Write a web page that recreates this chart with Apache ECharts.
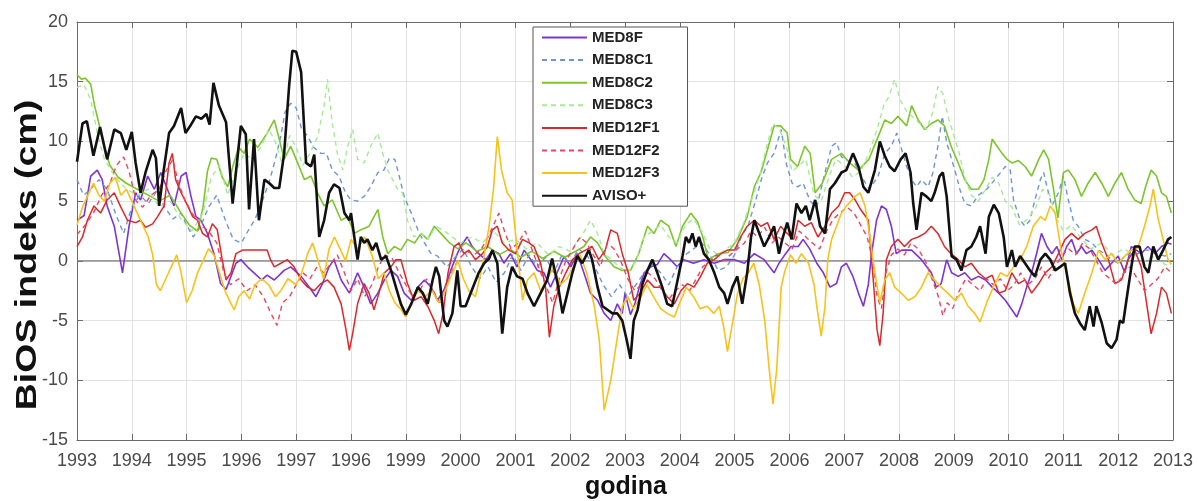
<!DOCTYPE html>
<html><head><meta charset="utf-8">
<script src="https://cdn.jsdelivr.net/npm/echarts@6/dist/echarts.min.js"></script>
<style>html,body{margin:0;padding:0;background:#fff}#c{width:1198px;height:501px}</style>
</head><body><div id="c"></div>
<script>
const xTickLabels = ['1993','1994','1995','1996','1997','1996','1999','2000','2001','2002','2003','2004','2005','2006','2007','2008','2009','2010','2011','2012','2013'];
const seriesNames = ['MED8F','MED8C1','MED8C2','MED8C3','MED12F1','MED12F2','MED12F3','AVISO+'];
const xTitle = 'godina';
const yTitle = 'BiOS indeks (cm)';

const med8f = [[1993.0,3.4],[1993.13,3.8],[1993.25,7.1],[1993.37,7.6],[1993.46,6.8],[1993.55,4.6],[1993.68,2.9],[1993.83,-1],[1993.95,2.9],[1994.07,5.7],[1994.16,5.1],[1994.29,7.1],[1994.41,6],[1994.53,7.4],[1994.65,6],[1994.77,4.6],[1994.9,7.1],[1994.99,7.4],[1995.08,5.4],[1995.17,3.7],[1995.26,3.4],[1995.38,2.3],[1995.5,0.6],[1995.62,-1.9],[1995.72,-2.4],[1995.81,-1.3],[1995.9,-0.2],[1995.99,0.1],[1996.11,-0.5],[1996.23,-1],[1996.37,-1.6],[1996.47,-1.2],[1996.6,-1.6],[1996.78,-0.8],[1996.9,-0.5],[1997.09,-1.3],[1997.27,-2.4],[1997.36,-3],[1997.48,-1.9],[1997.6,-0.5],[1997.69,0.1],[1997.82,-1.6],[1997.97,-2.7],[1998.12,-1],[1998.24,-2.2],[1998.36,-3.6],[1998.49,-2.7],[1998.61,-1.6],[1998.73,-0.8],[1998.85,-1.3],[1998.97,-2.7],[1999.1,-3.3],[1999.22,-2.2],[1999.34,-1.6],[1999.46,-2.2],[1999.58,-3.3],[1999.7,-2.4],[1999.82,-0.8],[1999.94,0.6],[2000.0,1.2],[2000.12,2],[2000.21,1.2],[2000.33,0.6],[2000.46,0.1],[2000.58,0.9],[2000.7,0.6],[2000.79,-0.2],[2000.91,0.6],[2001.03,-0.5],[2001.16,0.9],[2001.28,0.1],[2001.4,-0.8],[2001.52,-1],[2001.64,-2.2],[2001.76,-1],[2001.89,0.4],[2002.01,-0.5],[2002.13,0.6],[2002.25,-1],[2002.37,-2.7],[2002.5,-3.3],[2002.62,-4.4],[2002.74,-5],[2002.86,-3.6],[2002.95,-4.4],[2003.0,-2.7],[2003.1,-4.5],[2003.18,-3.6],[2003.26,-2.2],[2003.35,-1],[2003.47,-0.5],[2003.59,-0.3],[2003.71,0.6],[2003.83,0.1],[2003.95,-0.5],[2004.07,0.1],[2004.25,-0.2],[2004.44,0.1],[2004.63,-0.2],[2004.81,0.1],[2005.0,0.1],[2005.18,-0.2],[2005.36,0.6],[2005.54,0.1],[2005.72,-1],[2005.81,-0.2],[2005.9,0.4],[2006.03,1.2],[2006.16,1.2],[2006.25,1.8],[2006.37,1],[2006.5,-0.2],[2006.62,-1],[2006.74,-2.2],[2006.86,-1.9],[2006.95,-0.5],[2007.04,-0.2],[2007.16,-1.3],[2007.26,-2.7],[2007.35,-3.8],[2007.44,-2],[2007.5,0.6],[2007.59,3.4],[2007.68,4.6],[2007.77,4.3],[2007.86,2.9],[2007.95,0.6],[2008.05,0.9],[2008.23,0.9],[2008.41,0.1],[2008.59,-1],[2008.68,-2.2],[2008.77,-1.9],[2008.87,0.1],[2008.96,-1],[2009.08,-1.3],[2009.2,-1],[2009.32,-1.6],[2009.45,-1.3],[2009.58,-1.6],[2009.7,-2.2],[2009.82,-2.7],[2009.94,-3.3],[2010.06,-4.1],[2010.15,-4.7],[2010.24,-3.6],[2010.33,-2.2],[2010.42,-1],[2010.51,0.6],[2010.6,2.3],[2010.7,1.2],[2010.79,0.6],[2010.88,1.2],[2010.97,0.1],[2011.06,1.2],[2011.15,1.8],[2011.24,0.6],[2011.33,1.2],[2011.42,0.6],[2011.52,0.9],[2011.64,0.1],[2011.76,-0.8],[2011.88,-0.2],[2012.0,0.4],[2012.12,-1],[2012.24,1.2],[2012.33,0.9],[2012.42,0.6],[2012.54,1.2],[2012.67,0.6],[2012.79,1.2],[2012.91,1.5],[2012.97,1.4]];

const med8c1 = [[1993.0,6.8],[1993.12,5.5],[1993.25,6],[1993.4,6.8],[1993.55,6],[1993.7,4],[1993.85,2.3],[1994.0,4.5],[1994.15,5.5],[1994.3,4.8],[1994.45,5.8],[1994.6,4.5],[1994.75,3.5],[1994.9,4],[1995.0,3],[1995.12,2],[1995.25,2.8],[1995.4,4.5],[1995.55,5.5],[1995.7,3.5],[1995.85,1.8],[1996.0,1.5],[1996.12,2.5],[1996.25,3.5],[1996.38,5],[1996.5,6.5],[1996.62,8.5],[1996.72,10.5],[1996.8,12.5],[1996.9,13.2],[1997.0,12.8],[1997.1,11],[1997.2,10.5],[1997.32,9.5],[1997.45,9],[1997.55,9],[1997.66,7.6],[1997.78,7.1],[1997.9,5.7],[1998.0,5.1],[1998.12,5],[1998.24,5.4],[1998.36,6.2],[1998.49,7.4],[1998.6,7.6],[1998.7,8.6],[1998.8,8.5],[1998.88,7.1],[1998.97,5.4],[1999.1,4],[1999.22,2.6],[1999.34,1.5],[1999.46,0.6],[1999.58,0.4],[1999.75,-0.5],[1999.9,0.3],[2000.05,1],[2000.2,-0.5],[2000.35,-1.5],[2000.5,-0.5],[2000.65,-1.8],[2000.8,-1],[2000.95,0.5],[2001.1,-0.8],[2001.25,0.5],[2001.4,-0.5],[2001.55,0.3],[2001.7,-1],[2001.85,0.5],[2002.0,-0.3],[2002.15,1],[2002.3,0.5],[2002.45,-0.5],[2002.6,-2],[2002.75,-3],[2002.9,-2],[2003.05,-3],[2003.2,-2],[2003.35,-1],[2003.5,-0.3],[2003.65,-1],[2003.8,-2],[2003.95,-0.5],[2004.1,0.5],[2004.25,1],[2004.4,1.5],[2004.55,0.5],[2004.7,-0.8],[2004.85,-0.5],[2005.0,0.5],[2005.12,2],[2005.25,3],[2005.38,5],[2005.5,7],[2005.6,8.2],[2005.72,9],[2005.85,11],[2005.95,8],[2006.05,6.5],[2006.15,6.2],[2006.25,6.5],[2006.38,5],[2006.5,4.5],[2006.65,7.4],[2006.77,9.6],[2006.86,9.9],[2006.95,8.7],[2007.07,8.4],[2007.19,8.2],[2007.31,7.1],[2007.46,6],[2007.62,7.1],[2007.74,9],[2007.86,9.6],[2007.96,10.7],[2008.05,9.3],[2008.14,7.9],[2008.23,6.8],[2008.32,6.2],[2008.41,6.8],[2008.53,6.2],[2008.62,7.4],[2008.71,9.6],[2008.79,12.1],[2008.87,9.9],[2008.96,8.5],[2009.05,7.1],[2009.11,6],[2009.2,4.8],[2009.32,4.6],[2009.45,5.5],[2009.6,6],[2009.75,6.8],[2009.94,7.9],[2010.03,7.6],[2010.09,5.1],[2010.21,3.4],[2010.3,2.9],[2010.39,3.4],[2010.48,5.1],[2010.58,6.8],[2010.64,7.4],[2010.7,6.2],[2010.79,4.6],[2010.91,5.7],[2011.0,7.1],[2011.09,5.1],[2011.18,3.4],[2011.27,2.9],[2011.39,1.8],[2011.52,1.5],[2011.64,0.9],[2011.76,0.6],[2011.88,0.1],[2012.0,-0.2],[2012.12,0.4],[2012.24,0.6],[2012.36,0.6],[2012.48,0.9],[2012.6,0.9],[2012.72,0.6],[2012.85,0.4],[2012.97,0.6]];

const med8c2 = [[1993.0,15.6],[1993.08,15.2],[1993.15,15.3],[1993.25,14.8],[1993.32,13],[1993.4,11.5],[1993.5,9.5],[1993.6,8],[1993.75,7],[1993.9,6.5],[1994.1,6],[1994.3,5.5],[1994.5,5],[1994.7,5.5],[1994.9,4],[1995.05,3],[1995.2,2.5],[1995.3,4.5],[1995.38,7.5],[1995.45,8.6],[1995.55,8.5],[1995.65,7],[1995.75,6.2],[1995.85,8],[1995.95,9.5],[1996.05,9],[1996.15,10.2],[1996.3,9.5],[1996.47,10.7],[1996.6,11.8],[1996.69,10.2],[1996.78,8.5],[1996.9,9.6],[1997.0,8.5],[1997.15,6.8],[1997.27,7.1],[1997.39,5.7],[1997.51,4.6],[1997.66,5.1],[1997.82,3.4],[1997.94,3.7],[1998.06,2.3],[1998.18,2.6],[1998.33,2.9],[1998.49,4.3],[1998.58,2],[1998.67,0.6],[1998.79,1.2],[1998.91,0.9],[1999.03,1.8],[1999.16,1.5],[1999.28,2.3],[1999.4,1.8],[1999.52,2.9],[1999.64,2.3],[1999.8,1.5],[1999.95,1],[2000.1,1.5],[2000.3,0.8],[2000.5,1.2],[2000.7,0.5],[2000.9,1],[2001.1,0.3],[2001.3,0.8],[2001.5,0.2],[2001.7,0.8],[2001.9,0.3],[2002.1,0.8],[2002.25,1.2],[2002.37,2],[2002.5,1.5],[2002.65,0.3],[2002.8,-0.5],[2002.95,-0.8],[2003.1,-0.8],[2003.25,0.6],[2003.41,2.9],[2003.53,2.3],[2003.65,3.4],[2003.8,2.9],[2003.93,1.2],[2004.05,2.9],[2004.2,4],[2004.32,3.3],[2004.42,2],[2004.52,0.1],[2004.7,0.6],[2004.88,0.7],[2005.05,1.8],[2005.23,3.7],[2005.36,6.2],[2005.48,7.4],[2005.6,9.3],[2005.72,11.3],[2005.84,11.3],[2005.96,10.7],[2006.02,8.5],[2006.15,7.9],[2006.28,9.6],[2006.38,9],[2006.47,5.7],[2006.6,6.5],[2006.77,8.5],[2006.95,9],[2007.1,8.2],[2007.26,7.6],[2007.45,8.5],[2007.62,10.4],[2007.74,11.8],[2007.86,11.5],[2007.98,12.1],[2008.14,11.3],[2008.23,13],[2008.35,11.8],[2008.47,11],[2008.59,11.5],[2008.71,11.8],[2008.83,11.3],[2008.95,9.6],[2009.08,8.2],[2009.2,6.8],[2009.32,6],[2009.45,6],[2009.55,6.8],[2009.64,8.5],[2009.7,10.2],[2009.79,9.6],[2009.88,9],[2009.97,8.5],[2010.06,8.2],[2010.18,8.4],[2010.3,7.9],[2010.42,7.1],[2010.55,8.5],[2010.64,9.3],[2010.73,8.5],[2010.82,6],[2010.9,3.6],[2011.0,7.4],[2011.09,7.6],[2011.21,6.8],[2011.33,5.4],[2011.45,6.5],[2011.58,7.4],[2011.7,6.5],[2011.82,5.4],[2011.94,6.5],[2012.06,7.4],[2012.18,6],[2012.3,5.1],[2012.42,4.8],[2012.5,6.2],[2012.6,7.6],[2012.7,7.1],[2012.79,5.7],[2012.88,5.4],[2012.97,4]];

const med8c3 = [[1993.0,14.5],[1993.12,14.8],[1993.25,13.5],[1993.38,10.5],[1993.5,8.5],[1993.7,7],[1993.9,6],[1994.1,5.5],[1994.3,6],[1994.5,4.5],[1994.7,5],[1994.9,3.5],[1995.1,2.5],[1995.3,4],[1995.45,7],[1995.6,8],[1995.75,5.5],[1995.9,7.5],[1996.05,9],[1996.2,8.5],[1996.35,9.5],[1996.5,11],[1996.62,10],[1996.75,8],[1996.88,10.5],[1997.0,9.5],[1997.12,8],[1997.25,9],[1997.39,10.4],[1997.51,13],[1997.57,15.2],[1997.65,11.8],[1997.75,9],[1997.85,7.6],[1997.94,9.6],[1998.03,11],[1998.12,8.5],[1998.24,8.2],[1998.36,9.6],[1998.49,10.7],[1998.58,9],[1998.67,7.6],[1998.76,6.8],[1998.85,6],[1998.94,5.7],[1999.03,3.4],[1999.15,2],[1999.28,2.3],[1999.4,1.8],[1999.55,2.9],[1999.7,2.5],[1999.85,2],[2000.0,1.5],[2000.2,2],[2000.4,1.5],[2000.6,2.5],[2000.8,1.5],[2001.0,1.8],[2001.2,1],[2001.4,1.5],[2001.6,0.5],[2001.8,1.2],[2002.0,0.8],[2002.2,2],[2002.37,3.4],[2002.5,2.3],[2002.62,0.6],[2002.75,0.1],[2002.9,-0.5],[2003.05,-1],[2003.2,0],[2003.35,2],[2003.5,2.5],[2003.65,3],[2003.8,2],[2003.95,1.5],[2004.1,3],[2004.25,3.5],[2004.4,2.5],[2004.55,1],[2004.7,0.5],[2004.85,1],[2005.0,1.5],[2005.15,3],[2005.3,5],[2005.45,7],[2005.58,9.5],[2005.7,11.5],[2005.82,11],[2005.95,9.5],[2006.05,7.5],[2006.18,8],[2006.3,8.5],[2006.45,5.5],[2006.58,5],[2006.72,7],[2006.85,8.5],[2007.0,8],[2007.15,7],[2007.3,7.5],[2007.45,9],[2007.6,11],[2007.72,13],[2007.82,13.8],[2007.92,15.2],[2008.02,13.5],[2008.14,12.5],[2008.26,12],[2008.38,11.5],[2008.5,11],[2008.62,12.5],[2008.71,14.6],[2008.8,14],[2008.9,12],[2009.0,10.5],[2009.1,9],[2009.2,7],[2009.32,5.5],[2009.45,5],[2009.58,6],[2009.7,7],[2009.82,6.5],[2009.94,5],[2010.06,4.5],[2010.2,3],[2010.35,3.5],[2010.5,4.5],[2010.62,6],[2010.75,5.5],[2010.88,3.5],[2011.0,2.5],[2011.15,3],[2011.3,2],[2011.5,1],[2011.7,1.5],[2011.9,0.5],[2012.1,1],[2012.3,0.5],[2012.5,0],[2012.7,0.5],[2012.85,-0.3],[2012.97,-0.5]];

const med12f1 = [[1993.0,1.2],[1993.1,2],[1993.19,3.4],[1993.31,4.6],[1993.43,4],[1993.55,5.1],[1993.68,5.7],[1993.8,4.5],[1993.92,3.4],[1994.07,3.2],[1994.16,3.4],[1994.25,2.8],[1994.38,3.1],[1994.47,3.7],[1994.59,4.6],[1994.68,8.2],[1994.74,9],[1994.8,6.8],[1994.9,5.7],[1995.02,4.6],[1995.11,3.7],[1995.2,3.4],[1995.29,2.3],[1995.38,2],[1995.47,3.1],[1995.56,2.6],[1995.65,0.1],[1995.72,-1.6],[1995.81,-1],[1995.9,0.6],[1996.02,0.9],[1996.11,0.9],[1996.23,0.9],[1996.35,0.9],[1996.47,0.9],[1996.53,0.1],[1996.6,-0.5],[1996.72,-0.2],[1996.84,0.1],[1996.96,-0.5],[1997.09,-1.6],[1997.21,-2.2],[1997.33,-2.5],[1997.45,-1.9],[1997.57,-1.6],[1997.69,-2.2],[1997.82,-3.6],[1997.91,-5.8],[1997.97,-7.5],[1998.03,-6.1],[1998.12,-3.6],[1998.24,-1.9],[1998.33,-2.7],[1998.42,-4.1],[1998.51,-2.7],[1998.61,-1],[1998.73,-0.5],[1998.82,0.1],[1998.91,0.1],[1999.03,-1.9],[1999.15,-3.3],[1999.28,-3],[1999.4,-3.8],[1999.52,-5],[1999.6,-6.1],[1999.68,-4.4],[1999.77,-1],[1999.88,1.2],[1999.97,1.5],[2000.06,0.6],[2000.15,0.9],[2000.27,0.1],[2000.4,0.6],[2000.49,1.2],[2000.58,2.6],[2000.67,2.9],[2000.76,1.5],[2000.88,0.9],[2001.0,0.6],[2001.13,1.8],[2001.25,1.5],[2001.34,1.2],[2001.46,-0.2],[2001.55,-2.2],[2001.62,-6.4],[2001.7,-3.8],[2001.8,-2.2],[2001.92,-1],[2002.04,0.1],[2002.16,0.6],[2002.28,0.9],[2002.4,1.2],[2002.52,0.1],[2002.64,0.9],[2002.74,2.6],[2002.86,2.3],[2002.95,0.6],[2003.06,-1],[2003.16,-3.3],[2003.28,-2.7],[2003.41,-1.6],[2003.53,-2.2],[2003.65,-2.2],[2003.77,-3],[2003.9,-3.6],[2004.02,-2.5],[2004.14,-1.9],[2004.26,-2.2],[2004.38,-1.3],[2004.5,-0.2],[2004.63,0.1],[2004.75,0.6],[2004.87,0.9],[2005.0,0.9],[2005.11,2],[2005.23,2.9],[2005.36,3.4],[2005.48,2.9],[2005.6,3.2],[2005.72,1.8],[2005.84,2.9],[2005.96,2.3],[2006.08,1.8],[2006.16,3.4],[2006.28,2.9],[2006.4,3.2],[2006.52,2],[2006.65,2.9],[2006.77,4],[2006.9,4.6],[2007.01,5.7],[2007.1,5.7],[2007.2,5.1],[2007.3,4.3],[2007.44,3.4],[2007.53,-1.6],[2007.6,-5.8],[2007.65,-7.1],[2007.71,-4.4],[2007.77,0.1],[2007.86,1.2],[2007.98,1.8],[2008.1,1.2],[2008.23,1.8],[2008.35,2],[2008.47,2.3],[2008.59,2.9],[2008.71,2.3],[2008.83,1.2],[2008.95,0.6],[2009.08,0.1],[2009.2,-0.5],[2009.32,-0.2],[2009.45,-1],[2009.58,-1.5],[2009.7,-1.2],[2009.82,-2.7],[2009.94,-2.5],[2010.06,-1],[2010.18,-1.9],[2010.3,-1.6],[2010.42,-2.7],[2010.55,-1.9],[2010.67,-1],[2010.79,-0.5],[2010.91,0.6],[2011.03,1.8],[2011.15,2.3],[2011.27,1.8],[2011.39,2.3],[2011.52,2.6],[2011.6,2.9],[2011.7,1.5],[2011.82,0.1],[2011.94,-1.9],[2012.06,-1.6],[2012.18,0.1],[2012.3,0.9],[2012.42,-0.5],[2012.5,-3],[2012.6,-6.1],[2012.7,-4.4],[2012.79,-2.2],[2012.88,-2.7],[2012.97,-4.4]];

const med12f2 = [[1993.0,2.2],[1993.15,3],[1993.3,4],[1993.45,5.5],[1993.6,6.5],[1993.72,8],[1993.85,8.7],[1993.95,7.5],[1994.08,5],[1994.2,4.5],[1994.35,5.5],[1994.5,6],[1994.62,7.5],[1994.75,8.5],[1994.85,6.5],[1994.98,5],[1995.1,4],[1995.25,3],[1995.4,2.5],[1995.55,1.5],[1995.68,-1],[1995.8,-2],[1995.95,-1.5],[1996.1,-2.5],[1996.25,-2],[1996.4,-3],[1996.55,-4.5],[1996.65,-5.4],[1996.75,-3.5],[1996.88,-3],[1997.0,-2],[1997.12,-1],[1997.25,-1.5],[1997.38,-0.5],[1997.5,-1],[1997.62,-0.3],[1997.75,0.5],[1997.88,-1],[1998.0,-2.5],[1998.12,-1.5],[1998.25,-3],[1998.38,-2],[1998.5,-0.5],[1998.62,0.5],[1998.75,0.2],[1998.88,-1],[1999.0,-2],[1999.12,-3],[1999.25,-2.5],[1999.38,-1.5],[1999.5,-2.5],[1999.62,-3.5],[1999.75,-2],[1999.88,-0.5],[2000.0,0.3],[2000.12,0.8],[2000.25,0.5],[2000.38,1],[2000.5,2],[2000.6,3],[2000.7,4],[2000.8,2.5],[2000.92,1],[2001.05,1.5],[2001.18,2.5],[2001.3,1],[2001.42,-0.5],[2001.55,-2],[2001.68,-3.5],[2001.8,-1.5],[2001.92,0],[2002.05,1],[2002.18,2],[2002.3,1.5],[2002.42,0.5],[2002.55,-0.5],[2002.68,1.5],[2002.8,1],[2002.92,0],[2003.05,-1.5],[2003.18,-2.5],[2003.3,-2],[2003.42,-1],[2003.55,-1.5],[2003.68,-2.5],[2003.8,-3.2],[2003.92,-2.5],[2004.05,-2],[2004.18,-2.5],[2004.3,-1.5],[2004.42,-0.5],[2004.55,0],[2004.68,0.5],[2004.8,0],[2004.92,0.5],[2005.05,1],[2005.18,1.5],[2005.3,2.5],[2005.42,2],[2005.55,2.8],[2005.68,1.5],[2005.8,2],[2005.92,1.5],[2006.05,1],[2006.18,2.5],[2006.3,2],[2006.42,1.5],[2006.55,1],[2006.68,2.5],[2006.8,3.5],[2006.92,4],[2007.05,4.5],[2007.18,4],[2007.3,3],[2007.42,2],[2007.52,0],[2007.6,-3],[2007.68,-4],[2007.76,-1],[2007.86,0.5],[2007.98,1],[2008.1,0.5],[2008.22,1.5],[2008.35,1],[2008.48,0],[2008.6,-1.5],[2008.72,-3],[2008.8,-4.6],[2008.88,-3.5],[2008.98,-4],[2009.1,-2.5],[2009.22,-1.5],[2009.35,-2],[2009.48,-2.5],[2009.6,-1.5],[2009.72,-2],[2009.85,-1.5],[2009.98,-2.5],[2010.1,-2],[2010.22,-1],[2010.35,-2],[2010.48,-1.5],[2010.6,-0.5],[2010.72,-1.5],[2010.85,-0.5],[2010.98,0.5],[2011.1,1],[2011.22,0.5],[2011.35,1.5],[2011.48,1],[2011.6,0],[2011.72,-1],[2011.85,-1.5],[2011.98,-2],[2012.1,-1],[2012.22,-0.5],[2012.35,-1.5],[2012.48,-2.5],[2012.6,-2],[2012.72,-1.5],[2012.85,-0.5],[2012.97,-1]];

const med12f3 = [[1993.0,3],[1993.1,4.5],[1993.2,5.5],[1993.3,6.5],[1993.4,5.5],[1993.5,5],[1993.6,6.5],[1993.7,7],[1993.8,5.5],[1993.9,6],[1994.0,5],[1994.1,4],[1994.2,3],[1994.3,2],[1994.38,0.5],[1994.45,-2],[1994.52,-2.5],[1994.62,-1.5],[1994.72,-0.5],[1994.82,0.5],[1994.9,-1],[1995.0,-3.5],[1995.1,-2.5],[1995.2,-1],[1995.3,0],[1995.4,1],[1995.5,0.5],[1995.6,-1],[1995.7,-2.5],[1995.8,-3.5],[1995.87,-4.1],[1995.95,-3],[1996.05,-2.5],[1996.15,-3.2],[1996.25,-2],[1996.37,-1.5],[1996.5,-2],[1996.62,-3],[1996.72,-2.5],[1996.85,-1.5],[1997.0,-2],[1997.1,-1],[1997.2,0.5],[1997.3,1.5],[1997.4,0],[1997.5,-1.5],[1997.6,1],[1997.7,2],[1997.8,1],[1997.9,0],[1998.0,1.8],[1998.12,1],[1998.25,2],[1998.38,0.5],[1998.5,-1.5],[1998.6,-1],[1998.7,-2.5],[1998.8,-3.5],[1998.9,-4],[1999.0,-4.7],[1999.1,-3.5],[1999.22,-2.5],[1999.35,-3],[1999.48,-2.5],[1999.6,-3.5],[1999.72,-2.5],[1999.85,-1],[1999.95,0],[2000.05,-1.5],[2000.15,-2.5],[2000.27,-3],[2000.37,-1],[2000.45,1],[2000.52,2.9],[2000.6,6],[2000.67,10.4],[2000.75,7.5],[2000.85,5.7],[2000.94,5.1],[2001.03,1],[2001.13,-3.3],[2001.22,-1.6],[2001.34,-1],[2001.46,-2.5],[2001.58,-1.5],[2001.7,-0.5],[2001.82,-2],[2001.94,-1.5],[2002.06,-0.5],[2002.18,0.5],[2002.3,-1],[2002.44,-3.8],[2002.53,-6.6],[2002.62,-12.5],[2002.74,-10],[2002.86,-6.4],[2002.95,-3.8],[2003.05,-3],[2003.15,-4],[2003.27,-3.2],[2003.4,-2],[2003.52,-3],[2003.65,-4],[2003.77,-4.4],[2003.9,-4.7],[2004.0,-3.5],[2004.12,-2.2],[2004.25,-3],[2004.37,-4],[2004.5,-3.8],[2004.62,-4.4],[2004.72,-3.8],[2004.8,-5.5],[2004.87,-7.6],[2004.95,-5.5],[2005.05,-2.8],[2005.15,-1.5],[2005.25,-1],[2005.35,-0.2],[2005.45,-2],[2005.55,-5],[2005.63,-9],[2005.7,-12],[2005.77,-9],[2005.85,-2.2],[2005.92,-0.8],[2006.02,0.5],[2006.12,-0.2],[2006.22,0.6],[2006.35,-0.2],[2006.45,-2],[2006.5,-3.8],[2006.58,-6.3],[2006.65,-3.8],[2006.7,0.1],[2006.77,1.8],[2006.86,2.9],[2006.95,4],[2007.04,4.6],[2007.14,5.1],[2007.2,5.4],[2007.29,5.7],[2007.38,4.6],[2007.47,2],[2007.56,-1],[2007.65,-3.5],[2007.74,-1.6],[2007.83,-1],[2007.92,-2.2],[2008.04,-2.7],[2008.17,-3.3],[2008.29,-3],[2008.41,-2.2],[2008.53,-1],[2008.65,-1.6],[2008.77,-2.2],[2008.89,-2.7],[2009.02,-3.3],[2009.14,-2.7],[2009.26,-3.8],[2009.38,-4.4],[2009.48,-5.1],[2009.6,-3.5],[2009.72,-2.2],[2009.85,-1],[2009.97,-1.3],[2010.09,-0.5],[2010.21,0.1],[2010.33,1.2],[2010.45,2.9],[2010.58,3.7],[2010.67,3.4],[2010.76,4.6],[2010.85,4],[2010.97,0.6],[2011.09,-1.6],[2011.18,-3.6],[2011.27,-4.4],[2011.39,-2.7],[2011.52,-1],[2011.64,0.9],[2011.76,0.1],[2011.88,0.6],[2012.0,-0.2],[2012.12,0.4],[2012.24,0.9],[2012.36,1.1],[2012.48,2.9],[2012.58,4.6],[2012.64,6],[2012.73,3.5],[2012.82,1.8],[2012.91,0.1],[2012.97,-0.3]];

const aviso = [[1993.0,8.3],[1993.1,11.5],[1993.18,11.7],[1993.3,8.8],[1993.42,11.2],[1993.55,8.5],[1993.68,11],[1993.8,10.7],[1993.9,9.3],[1994.0,10.8],[1994.07,8.2],[1994.16,5.7],[1994.25,7.4],[1994.38,9.3],[1994.44,8.6],[1994.5,4.6],[1994.58,7.5],[1994.68,10.7],[1994.77,11.3],[1994.9,12.8],[1994.98,10.7],[1995.08,11.4],[1995.17,12.1],[1995.27,11.9],[1995.36,12.3],[1995.42,11.4],[1995.49,14.9],[1995.59,13],[1995.72,11.6],[1995.84,4.8],[1995.99,11.3],[1996.08,10.6],[1996.14,4.3],[1996.23,10.2],[1996.32,3.4],[1996.42,6.8],[1996.51,6.5],[1996.6,6.1],[1996.69,6.1],[1996.78,9],[1996.87,14.6],[1996.93,17.6],[1997.0,17.5],[1997.09,15.8],[1997.18,8.2],[1997.27,7.9],[1997.33,8.9],[1997.42,2],[1997.51,3.4],[1997.6,5.7],[1997.69,6.4],[1997.79,6.1],[1997.88,4],[1997.97,3.4],[1998.0,4],[1998.06,2],[1998.12,0.1],[1998.18,2],[1998.24,1.5],[1998.3,1.8],[1998.39,0.9],[1998.46,1.5],[1998.55,0.1],[1998.64,0.4],[1998.73,-0.8],[1998.82,-2.2],[1998.91,-3.6],[1999.0,-4.5],[1999.1,-3.6],[1999.22,-2.2],[1999.31,-2.7],[1999.4,-3.6],[1999.49,-1.6],[1999.55,-0.5],[1999.61,-1.3],[1999.7,-5],[1999.76,-5.5],[1999.85,-4.4],[1999.94,-0.8],[2000.0,-3.8],[2000.09,-3.8],[2000.21,-2.4],[2000.33,-1],[2000.43,-0.2],[2000.52,0.2],[2000.58,0.9],[2000.67,-0.2],[2000.76,-6.1],[2000.85,-2.2],[2000.94,-0.5],[2001.03,-1.3],[2001.13,-1.5],[2001.22,-2.7],[2001.34,-3.8],[2001.46,-2.7],[2001.58,-1.6],[2001.67,0.2],[2001.77,-1.9],[2001.86,-4.4],[2001.95,-2.7],[2002.04,-1],[2002.13,0.4],[2002.22,-0.2],[2002.34,0.9],[2002.4,0.1],[2002.5,-2.2],[2002.59,-3.8],[2002.68,-4.1],[2002.77,-4.4],[2002.86,-4.4],[2002.95,-5],[2003.03,-6.6],[2003.1,-8.2],[2003.16,-5],[2003.23,-4.1],[2003.32,-1.9],[2003.41,-0.8],[2003.5,0.1],[2003.59,-1],[2003.68,-2.2],[2003.77,-3.6],[2003.86,-3.8],[2003.96,-1.6],[2004.05,0.4],[2004.11,2],[2004.17,1.5],[2004.23,2.3],[2004.29,1.2],[2004.35,2],[2004.44,0.6],[2004.53,0.1],[2004.63,-1],[2004.72,-2.2],[2004.81,-2.7],[2004.87,-3.6],[2004.96,-2.2],[2005.05,-1.3],[2005.14,-3.6],[2005.23,-1],[2005.3,2],[2005.36,3.4],[2005.45,2.3],[2005.54,1.2],[2005.63,2],[2005.72,2.9],[2005.81,0.6],[2005.87,1.8],[2005.96,3.2],[2006.04,1.8],[2006.13,4.8],[2006.22,4],[2006.3,4.6],[2006.37,3.4],[2006.47,5.1],[2006.56,2.9],[2006.65,2.3],[2006.74,6],[2006.83,6.5],[2006.95,7.4],[2007.04,7.6],[2007.16,9],[2007.26,7.9],[2007.35,6.2],[2007.44,5.7],[2007.56,7.6],[2007.65,10],[2007.74,8.8],[2007.83,7.9],[2007.92,7.5],[2008.03,8.5],[2008.12,9],[2008.21,7.4],[2008.26,4.8],[2008.32,2.6],[2008.41,5.7],[2008.5,5.4],[2008.59,5],[2008.65,5.7],[2008.74,7.1],[2008.8,7.4],[2008.87,5.4],[2008.96,0.4],[2009.05,0.1],[2009.14,-0.8],[2009.23,0.9],[2009.32,1.2],[2009.41,2],[2009.48,2.9],[2009.58,0.6],[2009.64,3.7],[2009.73,4.7],[2009.82,4],[2009.91,2],[2009.97,-0.5],[2010.06,0.9],[2010.12,-0.5],[2010.21,0.4],[2010.3,-0.2],[2010.39,-0.8],[2010.48,-1.3],[2010.58,0.1],[2010.67,0.6],[2010.76,0.1],[2010.85,-0.8],[2010.94,-0.5],[2011.03,-0.2],[2011.12,-2.7],[2011.21,-4.4],[2011.3,-5.2],[2011.39,-5.8],[2011.48,-3.8],[2011.55,-5.5],[2011.6,-3.8],[2011.7,-5.2],[2011.79,-6.9],[2011.88,-7.3],[2011.97,-6.6],[2012.03,-5],[2012.09,-5.2],[2012.15,-3.3],[2012.24,-0.5],[2012.3,1.2],[2012.39,1.2],[2012.48,-0.5],[2012.55,-1],[2012.64,1.2],[2012.73,0.1],[2012.82,0.9],[2012.91,1.8],[2012.97,2]];

const seriesData = [med8f, med8c1, med8c2, med8c3, med12f1, med12f2, med12f3, aviso];
const styles = [
  {color:'#7b35d6', type:'solid', width:1.6},
  {color:'#6f94d6', type:[5,4], width:1.4},
  {color:'#7ec52c', type:'solid', width:1.6},
  {color:'#a6ea98', type:[5,4], width:1.4},
  {color:'#d8282c', type:'solid', width:1.5},
  {color:'#e8465e', type:[5,4], width:1.4},
  {color:'#f7c21a', type:'solid', width:1.6},
  {color:'#111111', type:'solid', width:2.6}
];

const chart = echarts.init(document.getElementById('c'), null, {renderer:'canvas'});
const font = 'Liberation Sans, Arial, sans-serif';
const series = [{
  name:'zero', type:'line', data:[[1993,0],[2013,0]], symbol:'none', silent:true,
  lineStyle:{color:'#7a7a7a', width:1.2}, z:1
}];
seriesNames.forEach((n,i)=>{
  series.push({
    name:n, type:'line', data:seriesData[i], symbol:'none', showSymbol:false,
    lineStyle:{color:styles[i].color, type:styles[i].type, width:styles[i].width},
    itemStyle:{color:styles[i].color}, z: 2 + i, animation:false
  });
});

const axisLineStyle = {show:true, onZero:false, lineStyle:{color:'#6a6a6a', width:1}};
const tickStyle = {show:true, inside:true, length:6, lineStyle:{color:'#6a6a6a'}};

chart.setOption({
  animation:false,
  backgroundColor:'#fff',
  grid:{left:77, right:25, top:22, bottom:61, show:false},
  legend:{
    data:seriesNames, orient:'vertical', left:533, top:27,
    itemWidth:45, itemHeight:14, itemGap:7.6,
    backgroundColor:'#fff', borderColor:'#555', borderWidth:1,
    padding:[3,28,3,8],
    itemStyle:{opacity:0, borderWidth:0},
    textStyle:{fontFamily:font, fontWeight:'bold', fontSize:15, color:'#222'}
  },
  graphic:[
    {type:'text', x:626, y:487, style:{text:xTitle, x:0, y:0, align:'center', verticalAlign:'middle',
      font:'bold 25px ' + font, fill:'#111'}, silent:true},
    {type:'text', rotation:Math.PI/2, scaleX:1.25, x:28, y:255, style:{text:yTitle, x:0, y:0, align:'center', verticalAlign:'middle',
      font:'bold 30px ' + font, fill:'#111'}, silent:true}
  ],
  xAxis:[{
    type:'value', min:1993, max:2013, interval:1,
    axisLine:axisLineStyle, axisTick:tickStyle,
    axisLabel:{fontFamily:font, fontSize:18, color:'#4a4a4a', margin:12,
      formatter:(v)=>xTickLabels[Math.round(v-1993)]},
    splitLine:{show:true, lineStyle:{color:'#e2e2e2', width:1}}
  },{
    type:'value', min:1993, max:2013, interval:1, position:'top',
    axisLine:axisLineStyle, axisTick:tickStyle,
    axisLabel:{show:false}, splitLine:{show:false}
  }],
  yAxis:[{
    type:'value', min:-15, max:20, interval:5,
    axisLine:axisLineStyle, axisTick:tickStyle,
    axisLabel:{fontFamily:font, fontSize:18, color:'#4a4a4a', margin:9},
    splitLine:{show:true, lineStyle:{color:'#e2e2e2', width:1}}
  },{
    type:'value', min:-15, max:20, interval:5, position:'right',
    axisLine:axisLineStyle, axisTick:tickStyle,
    axisLabel:{show:false}, splitLine:{show:false}
  }],
  series:series
});
</script>
</body></html>
